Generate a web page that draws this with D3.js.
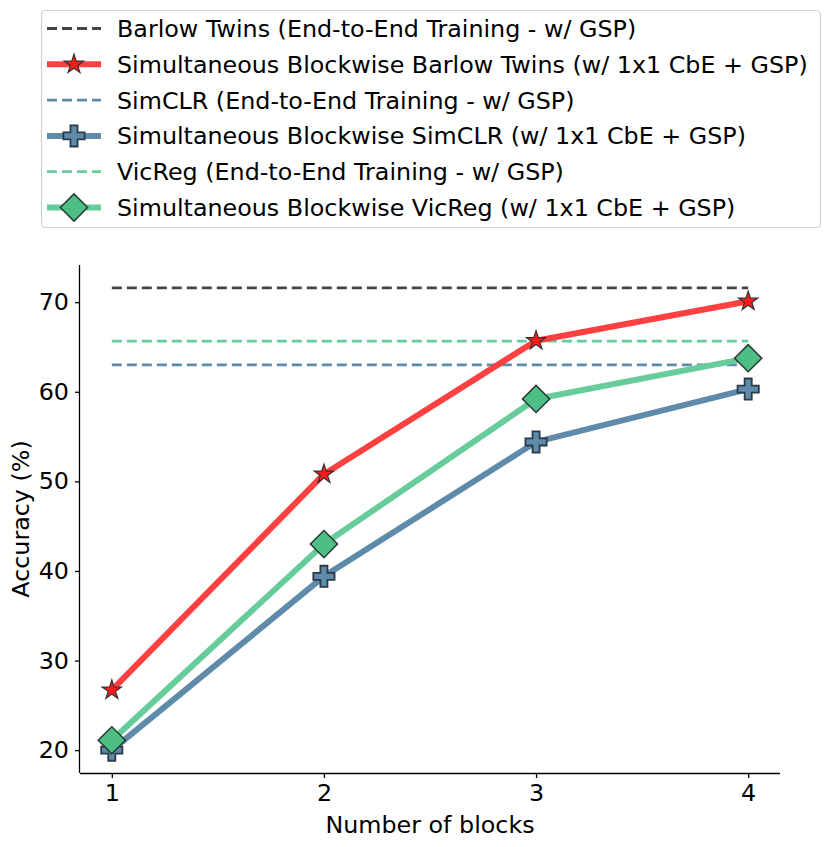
<!DOCTYPE html>
<html><head><meta charset="utf-8">
<script src="https://cdn.jsdelivr.net/npm/d3@7"></script>
<style>body{margin:0;background:#fff;} svg{font-family:"DejaVu Sans",sans-serif;}</style>
</head><body>
<svg id="c" width="831" height="847"></svg>
<script>
const blocks = [1, 2, 3, 4];
const xTicks = [1, 2, 3, 4];
const yTicks = [20, 30, 40, 50, 60, 70];
const barlowBlockwise = [26.7, 50.8, 65.7, 70.1];
const simclrBlockwise = [20.0, 39.4, 54.4, 60.3];
const vicregBlockwise = [21.1, 43.0, 59.2, 63.75];
const barlowE2E = 71.6;
const simclrE2E = 63.0;
const vicregE2E = 65.65;
const legendLabels = [
  "Barlow Twins (End-to-End Training - w/ GSP)",
  "Simultaneous Blockwise Barlow Twins (w/ 1x1 CbE + GSP)",
  "SimCLR (End-to-End Training - w/ GSP)",
  "Simultaneous Blockwise SimCLR (w/ 1x1 CbE + GSP)",
  "VicReg (End-to-End Training - w/ GSP)",
  "Simultaneous Blockwise VicReg (w/ 1x1 CbE + GSP)"
];

const RED = "#ff4040", BLUE = "#5f8bab", GREEN = "#66cc99", GRAY = "#444444";
const FS = 23.8;
const svg = d3.select("#c");
const L = 80, R = 780, T = 265, B = 773;
const x = d3.scaleLinear().domain([0.85, 4.15]).range([L, R]);
const y = d3.scaleLinear().domain([17.45, 74.15]).range([B, T]);

// axes
const xa = svg.append("g").attr("transform", `translate(0,${B})`)
  .call(d3.axisBottom(x).tickValues(xTicks).tickFormat(d3.format("d")).tickSize(5).tickPadding(6));
const ya = svg.append("g").attr("transform", `translate(${L},0)`)
  .call(d3.axisLeft(y).tickValues(yTicks).tickSize(5).tickPadding(6));
[xa, ya].forEach(a => {
  a.selectAll("path").attr("stroke", "#000").attr("stroke-width", 1.3);
  a.selectAll("line").attr("stroke", "#000").attr("stroke-width", 1.3);
  a.selectAll("text").attr("font-size", FS).attr("fill", "#000").attr("font-family", "DejaVu Sans");
});
xa.select(".domain").attr("d", `M${L},0.5H${R}`);
ya.select(".domain").attr("d", `M-0.5,${B}V${T}`);

svg.append("text").attr("x", (L + R) / 2).attr("y", 833).attr("text-anchor", "middle")
  .attr("font-size", FS).text("Number of blocks");
svg.append("text").attr("transform", `translate(29,${(T + B) / 2}) rotate(-90)`)
  .attr("text-anchor", "middle").attr("font-size", FS).text("Accuracy (%)");

// baselines
const baselines = [[barlowE2E, GRAY], [simclrE2E, BLUE], [vicregE2E, GREEN]];
baselines.forEach(([v, c]) => {
  svg.append("line").attr("x1", x(blocks[0])).attr("x2", x(blocks[blocks.length - 1]))
    .attr("y1", y(v)).attr("y2", y(v)).attr("stroke", c).attr("stroke-width", 2.8)
    .attr("stroke-dasharray", "10,5");
});

const line = d3.line().x((d, i) => x(blocks[i])).y(d => y(d));

function drawMarker(g, type, cx, cy) {
  if (type === "star") {
    g.append("path").attr("d", d3.symbol().type(d3.symbolStar).size(115)())
      .attr("transform", `translate(${cx},${cy})`).attr("fill", "#ff1a1a")
      .attr("stroke", "#333").attr("stroke-width", 1.2);
  } else if (type === "plus") {
    g.append("path").attr("d", d3.symbol().type(d3.symbolCross).size(250)())
      .attr("transform", `translate(${cx},${cy})`).attr("fill", BLUE)
      .attr("stroke", "#2b3a48").attr("stroke-width", 1.8);
  } else {
    g.append("path").attr("d", d3.symbol().type(d3.symbolSquare).size(370)())
      .attr("transform", `translate(${cx},${cy}) rotate(45)`).attr("fill", "#4dbf85")
      .attr("stroke", "#2a3a32").attr("stroke-width", 1.5);
  }
}

[[barlowBlockwise, RED, "star"], [simclrBlockwise, BLUE, "plus"], [vicregBlockwise, GREEN, "diamond"]].forEach(([vals, c, m]) => {
  const g = svg.append("g");
  g.append("path").attr("d", line(vals)).attr("fill", "none").attr("stroke", c)
    .attr("stroke-width", 6).attr("stroke-linejoin", "round");
  vals.forEach((v, i) => drawMarker(g, m, x(blocks[i]), y(v)));
});

// legend
const lg = svg.append("g");
lg.append("rect").attr("x", 41.5).attr("y", 10.5).attr("width", 779).attr("height", 217)
  .attr("rx", 4).attr("fill", "#fff").attr("stroke", "#d0d0d0").attr("stroke-width", 1.2);
const legendStyles = [
  [GRAY, "dash", null], [RED, "solid", "star"], [BLUE, "dash", null],
  [BLUE, "solid", "plus"], [GREEN, "dash", null], [GREEN, "solid", "diamond"]
];
legendLabels.forEach((lab, i) => {
  const cy = 28.5 + i * 35.8;
  const [c, s, m] = legendStyles[i];
  lg.append("line").attr("x1", 47).attr("x2", 101).attr("y1", cy).attr("y2", cy)
    .attr("stroke", c).attr("stroke-width", s === "dash" ? 2.8 : 6)
    .attr("stroke-dasharray", s === "dash" ? "10,5" : null);
  if (m) drawMarker(lg, m, 74, cy);
  lg.append("text").attr("x", 117).attr("y", cy).attr("dy", "0.36em").attr("font-size", FS).text(lab);
});
</script>
</body></html>
